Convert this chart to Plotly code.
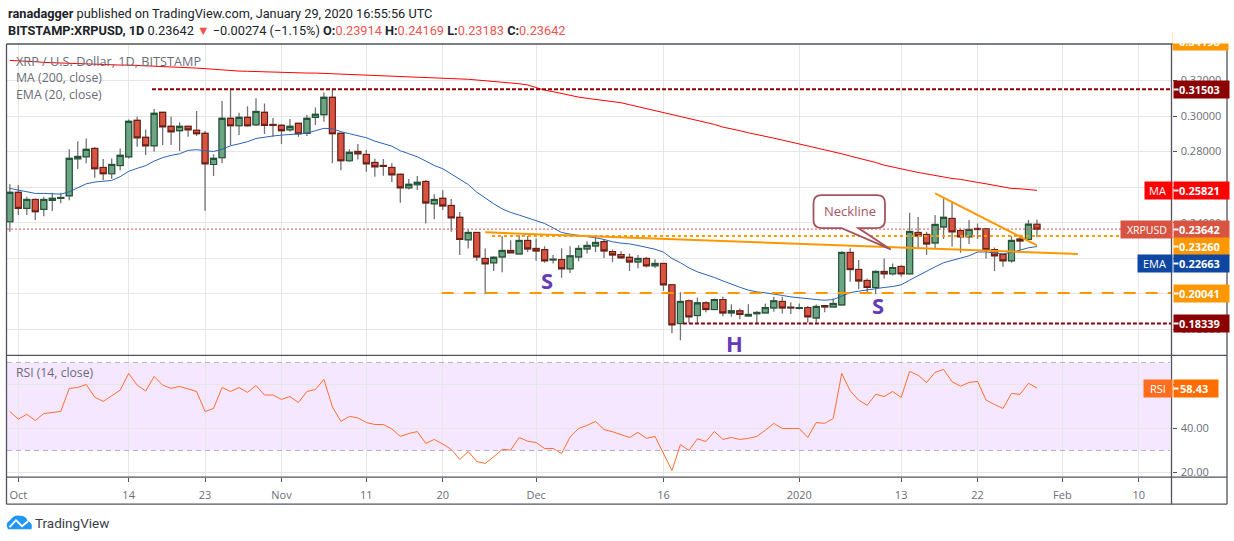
import pandas as pd
import plotly.graph_objects as go

W, H = 1234, 538.8
dates = pd.date_range("2019-09-30", periods=122, freq="D")

# one row per day: open, high, low, close
ohlc = [
(.2406,.2617,.2349,.2571),(.2571,.2612,.2443,.2481),(.2481,.2546,.2443,.2531),(.2531,.2537,.2415,.2462),
(.2475,.2546,.2437,.2531),(.2526,.2569,.2466,.2537),(.2537,.2569,.2509,.2542),(.2552,.2814,.2527,.2762),
(.2760,.2859,.2702,.2773),(.2771,.2874,.2734,.2813),(.2818,.2826,.2653,.2704),(.2711,.2758,.2640,.2676),
(.2676,.2762,.2648,.2728),(.2722,.2818,.2696,.2779),(.2771,.2981,.2762,.2970),(.2976,.2996,.2828,.2878),
(.2880,.2925,.2781,.2833),(.2833,.3040,.2799,.3015),(.3021,.3025,.2837,.2940),(.2942,.2996,.2837,.2912),
(.2918,.2966,.2803,.2942),(.2942,.2944,.2884,.2923),(.2920,.3028,.2888,.2901),(.2903,.2916,.2467,.2732),
(.2728,.2786,.2663,.2762),(.2766,.3085,.2734,.2987),(.2987,.3150,.2837,.2946),(.2946,.3019,.2893,.2993),
(.2993,.3056,.2940,.2946),(.2951,.3101,.2944,.3026),(.3021,.3071,.2899,.2948),(.2953,.2989,.2884,.2948),
(.2948,.2955,.2843,.2918),(.2923,.2983,.2912,.2942),(.2959,.2963,.2884,.2901),(.2903,.3006,.2888,.2987),
(.2993,.3049,.2950,.3010),(.3008,.3132,.2968,.3105),(.3105,.3150,.2734,.2901),(.2903,.2906,.2696,.2749),
(.2749,.2814,.2743,.2796),(.2801,.2843,.2756,.2788),(.2784,.2809,.2687,.2732),(.2739,.2760,.2659,.2715),
(.2722,.2758,.2664,.2717),(.2711,.2734,.2629,.2670),(.2672,.2677,.2512,.2597),(.2597,.2646,.2587,.2616),
(.2614,.2663,.2584,.2627),(.2632,.2640,.2396,.2512),(.2507,.2561,.2420,.2531),(.2537,.2583,.2471,.2495),
(.2497,.2533,.2349,.2428),(.2430,.2460,.2218,.2306),(.2304,.2362,.2255,.2345),(.2345,.2347,.2186,.2208),
(.2199,.2255,.1998,.2169),(.2175,.2212,.2128,.2205),(.2208,.2325,.2122,.2244),(.2244,.2302,.2227,.2231),
(.2225,.2330,.2223,.2300),(.2300,.2326,.2236,.2253),(.2255,.2311,.2186,.2242),(.2249,.2268,.2175,.2186),
(.2191,.2218,.2171,.2195),(.2193,.2257,.2090,.2141),(.2141,.2268,.2118,.2214),(.2208,.2274,.2184,.2255),
(.2253,.2296,.2227,.2272),(.2270,.2330,.2236,.2289),(.2294,.2306,.2201,.2242),(.2238,.2249,.2178,.2219),
(.2221,.2240,.2197,.2203),(.2205,.2227,.2128,.2180),(.2180,.2218,.2144,.2199),(.2199,.2208,.2148,.2158),
(.2158,.2195,.2146,.2171),(.2171,.2175,.2017,.2051),(.2051,.2053,.1779,.1826),(.1833,.2009,.1739,.1957),
(.1961,.1968,.1837,.1871),(.1878,.1979,.1833,.1949),(.1949,.1959,.1897,.1912),(.1912,.1974,.1908,.1968),
(.1968,.1983,.1874,.1893),(.1893,.1942,.1871,.1904),(.1904,.1918,.1857,.1884),(.1876,.1942,.1871,.1884),
(.1889,.1904,.1833,.1895),(.1893,.1946,.1889,.1923),(.1921,.1983,.1899,.1961),(.1957,.1983,.1889,.1921),
(.1925,.1953,.1886,.1921),(.1918,.1946,.1912,.1923),(.1923,.1931,.1837,.1871),(.1865,.1940,.1837,.1929),
(.1934,.1936,.1897,.1927),(.1927,.1974,.1923,.1946),(.1938,.2240,.1936,.2233),(.2233,.2257,.2068,.2137),
(.2137,.2190,.2028,.2073),(.2075,.2086,.2006,.2036),(.2036,.2133,.1998,.2126),(.2126,.2199,.2086,.2113),
(.2113,.2171,.2103,.2148),(.2154,.2161,.2096,.2113),(.2113,.2456,.2107,.2351),(.2345,.2433,.2253,.2326),
(.2334,.2349,.2218,.2281),(.2287,.2443,.2255,.2390),(.2377,.2537,.2308,.2430),(.2424,.2522,.2265,.2349),
(.2356,.2368,.2231,.2321),(.2321,.2415,.2280,.2362),(.2368,.2396,.2308,.2362),(.2366,.2368,.2199,.2249),
(.2249,.2261,.2129,.2214),(.2221,.2227,.2152,.2186),(.2186,.2326,.2175,.2300),(.2308,.2334,.2244,.2298),
(.2306,.2415,.2302,.23916),(.23914,.24169,.23183,.23642),
]
open_ = [r[0] for r in ohlc]
high = [r[1] for r in ohlc]
low = [r[2] for r in ohlc]
close = [r[3] for r in ohlc]

ma200 = [
.3313,.3312,.3310,.3306,.3302,.3300,.3297,.3295,.3293,.3291,.3291,.3289,.3289,.3287,.3287,.3285,.3285,.3283,.3282,.3280,
.3278,.3276,.3270,.3267,.3263,.3259,.3255,.3253,.3252,.3250,.3248,.3246,.3246,.3246,.3244,.3242,.3242,.3240,.3238,.3237,
.3235,.3233,.3231,.3229,.3227,.3225,.3225,.3223,.3222,.3220,.3218,.3214,.3212,.3210,.3207,.3203,.3199,.3195,.3192,.3188,
.3182,.3175,.3161,.3146,.3137,.3126,.3116,.3107,.3100,.3094,.3086,.3081,.3075,.3064,.3053,.3041,.3030,.3019,.3008,.2996,
.2987,.2976,.2965,.2953,.2938,.2929,.2918,.2906,.2897,.2888,.2876,.2865,.2854,.2844,.2835,.2822,.2811,.2799,.2788,.2775,
.2764,.2751,.2739,.2724,.2713,.2700,.2693,.2683,.2674,.2664,.2657,.2649,.2644,.2634,.2627,.2619,.2610,.2601,.2593,.2591,
.2587,.25821]

ema20 = [
.2593,.2584,.2576,.2565,.2565,.2563,.2561,.2574,.2597,.2619,.2629,.2634,.2638,.2659,.2689,.2706,.2721,.2747,.2766,.2779,
.2788,.2807,.2811,.2805,.2801,.2813,.2833,.2844,.2856,.2874,.2882,.2888,.2893,.2897,.2897,.2903,.2918,.2931,.2929,.2912,
.2901,.2891,.2878,.2859,.2846,.2831,.2805,.2786,.2771,.2747,.2722,.2704,.2674,.2643,.2615,.2572,.2538,.2507,.2478,.2458,
.2443,.2426,.2411,.2396,.2371,.2345,.2336,.2330,.2325,.2315,.2306,.2293,.2285,.2281,.2272,.2263,.2251,.2235,.2199,.2175,
.2146,.2124,.2109,.2092,.2073,.2054,.2037,.2021,.2011,.2006,.2000,.1991,.1983,.1977,.1970,.1968,.1964,.1968,.1987,.2007,
.2015,.2023,.2030,.2036,.2041,.2051,.2077,.2103,.2128,.2152,.2175,.2190,.2201,.2214,.2235,.2236,.2231,.2225,.2233,.2246,
.2259,.22663]

rsi14 = [
47.7,44.2,46.4,43.6,46.8,47.4,47.7,58.2,58.6,60.0,54.2,52.3,54.8,57.4,65.0,59.7,57.0,63.6,59.7,58.2,
59.1,58.0,56.8,47.7,49.1,58.6,56.8,58.6,56.4,59.5,55.2,55.2,53.2,54.5,51.8,56.8,57.7,62.3,49.8,43.2,
45.5,44.8,42.7,41.8,41.8,39.8,36.4,37.7,38.6,33.2,35.0,32.9,30.5,25.9,29.5,25.0,24.1,27.1,30.5,30.2,
35.9,34.2,33.6,30.9,30.9,28.6,36.1,40.0,41.4,43.2,39.5,38.5,37.1,35.9,38.2,35.5,36.4,28.6,20.9,32.7,
30.0,35.3,34.1,38.6,35.0,35.9,35.0,35.5,36.4,39.2,42.3,40.0,40.0,40.0,35.9,42.7,42.3,44.5,65.0,57.1,
52.9,50.5,55.5,54.5,56.8,54.1,65.9,64.2,60.9,65.5,66.8,61.2,59.2,60.9,61.4,52.9,50.9,49.1,55.9,55.5,
60.5,58.43]

assert len(ohlc) == 122 and len(ma200) == 122 and len(ema20) == 122 and len(rsi14) == 122, (len(ohlc), len(ma200), len(ema20), len(rsi14))

price_ticks = [.18, .20, .22, .24, .26, .28, .30, .32]
price_labels = ["0.18000", "", "", "0.24000", "", "0.28000", "0.30000", "0.32000"]
rsi_ticks = [20, 40, 60]
rsi_labels = ["20.00", "40.00", ""]
time_ticks = ["2019-10-01", "2019-10-14", "2019-10-23", "2019-11-01", "2019-11-11", "2019-11-20", "2019-12-01",
              "2019-12-16", "2020-01-01", "2020-01-13", "2020-01-22", "2020-02-01", "2020-02-10"]
time_labels = ["Oct", "14", "23", "Nov", "11", "20", "Dec", "16", "2020", "13", "22", "Feb", "10"]

level_high, level_mid, level_dash, level_low = .31503, .23260, .20041, .18339
last_price = .23642
x_start, x_end = "2019-09-29 16:00", "2020-02-13 20:24"

def px(x): return x / W
def py(y): return 1 - y / H

GRID = "#e6e6e6"; FRAME = "#50535e"; TEXT = "#6a6d78"
FONT = "Open Sans"; HEAD = "Roboto"

fig = go.Figure()

def line(x, y, color, width=1, dash=None, xa="x", ya="y", mode="lines"):
    fig.add_trace(go.Scatter(x=x, y=y, mode=mode, xaxis=xa, yaxis=ya, showlegend=False, hoverinfo="skip",
                             line=dict(color=color, width=width, dash=dash)))

line([x_start, x_end], [last_price, last_price], "#d75442", 1, "2px,2px")
line(dates, ma200, "#ff0000", 1)
line(dates, ema20, "#2a62b4", 1)

# wicks and outlines in grey, then the real bodies on top
fig.add_trace(go.Candlestick(x=dates, open=open_, high=high, low=low, close=close, xaxis="x", yaxis="y",
    showlegend=False, hoverinfo="skip", whiskerwidth=0,
    increasing=dict(line=dict(color="#737375", width=1.3), fillcolor="#737375"),
    decreasing=dict(line=dict(color="#737375", width=1.3), fillcolor="#737375")))
fig.add_trace(go.Candlestick(x=dates, open=open_, high=[max(a, b) for a, b in zip(open_, close)],
    low=[min(a, b) for a, b in zip(open_, close)], close=close, xaxis="x", yaxis="y",
    showlegend=False, hoverinfo="skip", whiskerwidth=0,
    increasing=dict(line=dict(color="#225437", width=1.1), fillcolor="#6ba583"),
    decreasing=dict(line=dict(color="#6e1f14", width=1.1), fillcolor="#d75442")))

# drawings
line(["2019-10-16 18:00", x_end], [level_high, level_high], "#8b0000", 2, "4px,2px")
line(["2019-12-18 07:00", x_end], [level_low, level_low], "#8b0000", 2, "4px,2px")
line(["2019-11-19 21:00", x_end], [level_dash, level_dash], "#ff9800", 2, "12px,10px")
line(["2019-11-25 19:00", x_end], [level_mid, level_mid], "#ff9800", 2, "3px,3px")
line(["2019-11-25", "2020-02-02 20:00"], [.2346, .2224], "#ff9800", 2)
line(["2020-01-17", "2020-01-29"], [.2565, .2273], "#ff9800", 2)

# RSI pane
line(dates, rsi14, "#ff6d2e", 1, xa="x2", ya="y2")

shapes = [
    dict(type="rect", xref="paper", yref="y2", x0=px(7), x1=px(1170), y0=30, y1=70, layer="between",
         fillcolor="rgba(153,21,255,0.10)", line_width=0),
    dict(type="line", xref="paper", yref="y2", x0=px(7), x1=px(1170), y0=70, y1=70, line=dict(color="#b9aec6", width=1, dash="5px,4px")),
    dict(type="line", xref="paper", yref="y2", x0=px(7), x1=px(1170), y0=30, y1=30, line=dict(color="#b9aec6", width=1, dash="5px,4px")),
]
for x0, y0, x1, y1 in [(6.5, 44, 1227, 44), (6.5, 504, 1227, 504), (6.5, 44, 6.5, 504), (1227, 44, 1227, 504),
                       (1171.5, 44, 1171.5, 504), (6.5, 355.3, 1227, 355.3), (6.5, 477, 1227, 477)]:
    shapes.append(dict(type="line", xref="paper", yref="paper", x0=px(x0), x1=px(x1), y0=py(y0), y1=py(y1),
                       line=dict(color=FRAME, width=1.3)))

def path(points):
    out = ""
    for cmd, *vals in points:
        out += cmd
        coords = [f"{px(vals[i])},{py(vals[i+1])}" for i in range(0, len(vals), 2)]
        out += " ".join(coords) + " "
    return out + "Z"

callout = path([("M", 821.5, 195), ("L", 877, 195), ("Q", 885, 195, 885, 203), ("L", 885, 220), ("Q", 885, 228, 877, 228),
                ("L", 858.3, 228), ("L", 890.7, 249.3), ("L", 841.7, 228), ("L", 821.5, 228),
                ("Q", 813.5, 228, 813.5, 220), ("L", 813.5, 203), ("Q", 813.5, 195, 821.5, 195)])
shapes.append(dict(type="path", xref="paper", yref="paper", path=callout, fillcolor="white", layer="above",
                   line=dict(color="#a5545f", width=1.8)))
cloud = path([("M", 8, 529), ("Q", 4.5, 523, 10, 520), ("Q", 14, 514, 20, 515.5), ("Q", 26, 515.5, 27.5, 520.5),
              ("Q", 33.5, 523, 31.5, 529)])
shapes.append(dict(type="path", xref="paper", yref="paper", path=cloud, fillcolor="#2196f3", line_width=0, layer="above"))
zig = f"M{px(9.5)},{py(527)} L{px(16)},{py(520)} L{px(22)},{py(526)} L{px(28)},{py(521)}"
shapes.append(dict(type="path", xref="paper", yref="paper", path=zig, line=dict(color="white", width=1.8), layer="above"))

ann = []
def text(x, y, s, size=13, color=TEXT, anchor="left", bold=False, family=FONT):
    ann.append(dict(xref="paper", yref="paper", x=px(x), y=py(y), text=f"<b>{s}</b>" if bold else s, showarrow=False,
                    xanchor=anchor, yanchor="middle", font=dict(size=size, color=color, family=family), borderpad=0))

def box(x0, x1, yc, bg, h=17):
    ann.append(dict(xref="paper", yref="paper", x=px(x0), y=py(yc), width=x1 - x0, height=h, text="",
                    showarrow=False, xanchor="left", yanchor="middle", bgcolor=bg, borderpad=0))

# clipped label at the top edge, masked above the frame
box(1172, 1227, 41.5, "#ff9800")
text(1199, 41.5, "0.34198", 11, "white", anchor="center", bold=True)
box(1172, 1228, 21.5, "white", h=43)

for yc, s, bg, right, left, lab in [
    (89.5, "0.31503", "#8b0000", 1227, None, None),
    (190.5, "0.25821", "#ff0000", 1227, 1143.5, "MA"),
    (229.5, "0.23642", "#d75442", 1227, 1120, "XRPUSD"),
    (246.5, "0.23260", "#ff9800", 1227, None, None),
    (263.5, "0.22663", "#0d47a1", 1227, 1137, "EMA"),
    (293.5, "0.20041", "#ff9800", 1227, None, None),
    (323.5, "0.18339", "#8b0000", 1227, None, None),
    (388.5, "58.43", "#ff6d00", 1216, 1143, "RSI"),
]:
    box(1172.5, right, yc, bg)
    box(1172.5, 1176.5, yc, "white", h=1)
    text(1199 if right == 1227 else 1193.5, yc, s, 11, "white", anchor="center", bold=True)
    if left:
        box(left, 1170.5, yc, {"MA": "#ff0000", "XRPUSD": "#d75442", "EMA": "#0d47a1", "RSI": "#ff6d1f"}[lab])
        text(1146.5 if lab == "XRPUSD" else (left + 1172) / 2, yc, lab, 10.5 if lab == "XRPUSD" else 11, "white", anchor="center")

text(15, 60.5, "XRP / U.S. Dollar, 1D, BITSTAMP", 12.7, TEXT)
text(15, 77.5, "MA (200, close)", 12.3, TEXT)
text(15, 94.5, "EMA (20, close)", 12.3, TEXT)
text(15, 372.5, "RSI (14, close)", 12.2, TEXT)
text(849.5, 210.5, "Neckline", 13, "#a5545f", anchor="center")
text(546.5, 280, "S", 22, "#673ab7", anchor="center", bold=True)
text(734.5, 343, "H", 22, "#673ab7", anchor="center", bold=True)
text(877.5, 305, "S", 22, "#673ab7", anchor="center", bold=True)
text(34, 522.5, "TradingView", 13.5, "#3a3d47", family=HEAD)

DARK = "#202329"; RED = "#ef5350"
text(6.5, 13, "<b>ranadagger</b> published on TradingView.com, January 29, 2020 16:55:56 UTC", 12.75, DARK, family=HEAD)
text(6.5, 30, f"<b>BITSTAMP:XRPUSD, 1D</b> 0.23642 <span style='color:{RED}'>▼</span> −0.00274 (−1.15%) "
              f"<b>O:</b><span style='color:{RED}'>0.23914</span> <b>H:</b><span style='color:{RED}'>0.24169</span> "
              f"<b>L:</b><span style='color:{RED}'>0.23183</span> <b>C:</b><span style='color:{RED}'>0.23642</span>", 12.75, DARK, family=HEAD)

x_common = dict(type="date", range=[x_start, x_end], domain=[px(7), px(1171.5)], tickvals=time_ticks, ticktext=time_labels,
                gridcolor=GRID, gridwidth=1, showline=False, zeroline=False, tickfont=dict(size=11, color=TEXT, family=FONT))
fig.update_layout(
    width=W, height=541, margin=dict(l=0, r=0, t=0, b=0), paper_bgcolor="white", plot_bgcolor="white",
    boxgap=0.16, boxgroupgap=0.16,
    xaxis=dict(x_common, anchor="y", showticklabels=False, ticks="", rangeslider=dict(visible=False)),
    xaxis2=dict(x_common, anchor="y2", matches="x", ticks="outside", ticklen=4, tickcolor=FRAME, ticklabelstandoff=4),
    yaxis=dict(domain=[py(355.3), py(44)], range=[.32 - (355.3 - 80.5) / 1777, .32 + (80.5 - 44) / 1777], side="right", anchor="x",
               tickvals=price_ticks, ticktext=price_labels, gridcolor=GRID, zeroline=False, ticks="outside", ticklen=4, tickcolor=FRAME,
               tickfont=dict(size=11, color=TEXT, family=FONT), ticklabelstandoff=2),
    yaxis2=dict(domain=[py(477), py(355.3)], range=[20 - (477 - 472.3) / 2.2, 20 + (472.3 - 355.3) / 2.2], side="right", anchor="x2",
                tickvals=rsi_ticks, ticktext=rsi_labels, gridcolor=GRID, zeroline=False, ticks="outside", ticklen=4, tickcolor=FRAME,
                tickfont=dict(size=11, color=TEXT, family=FONT), ticklabelstandoff=2),
    shapes=shapes, annotations=ann, showlegend=False, hovermode=False,
)
fig.write_html("out.html", config=dict(displayModeBar=False), post_script="document.body.style.margin='0';")
